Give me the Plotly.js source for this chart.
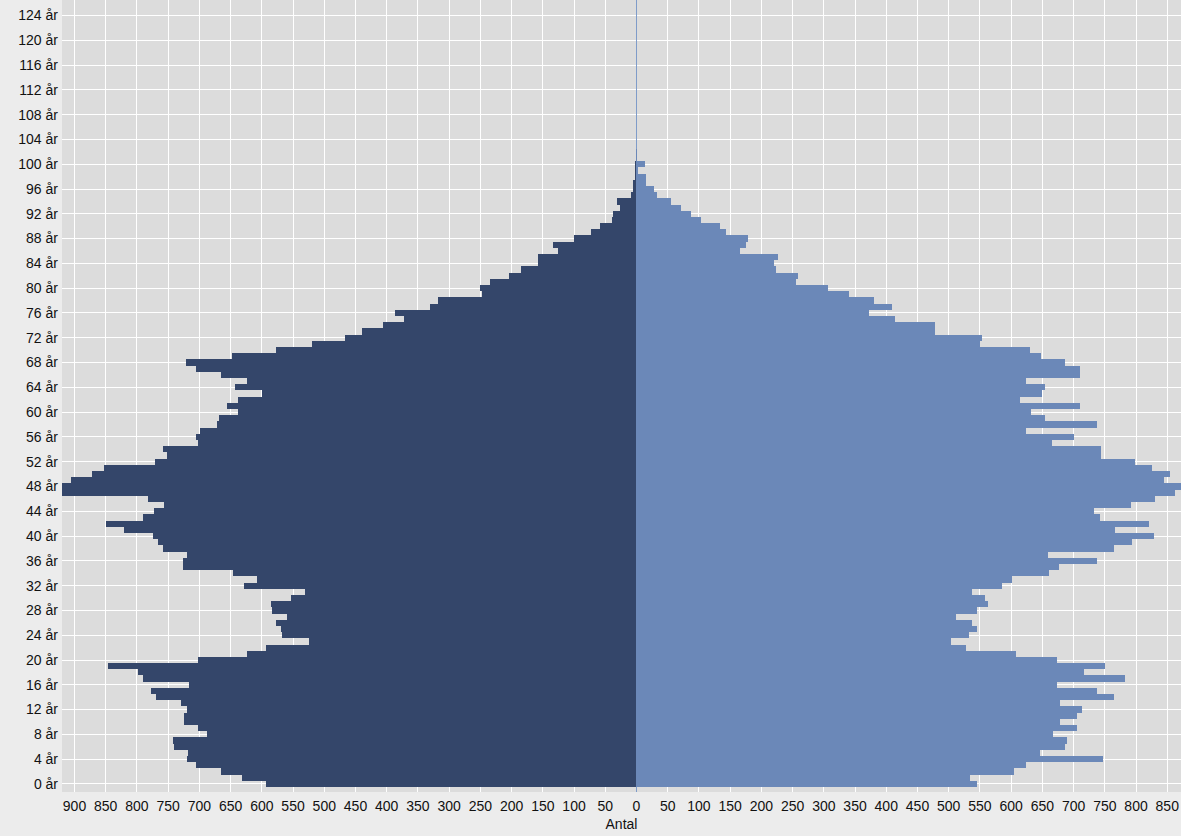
<!DOCTYPE html>
<html>
<head>
<meta charset="utf-8">
<script src="https://cdn.plot.ly/plotly-3.0.1.min.js"></script>
<style>html,body{margin:0;padding:0;background:#ececec;}#chart{width:1181px;height:836px;}</style>
</head>
<body>
<div id="chart"></div>
<script>
var ages = [0,1,2,3,4,5,6,7,8,9,10,11,12,13,14,15,16,17,18,19,20,21,22,23,24,25,26,27,28,29,30,31,32,33,34,35,36,37,38,39,40,41,42,43,44,45,46,47,48,49,50,51,52,53,54,55,56,57,58,59,60,61,62,63,64,65,66,67,68,69,70,71,72,73,74,75,76,77,78,79,80,81,82,83,84,85,86,87,88,89,90,91,92,93,94,95,96,97,98,99,100,101,102];
var men = [593,631,666,706,720,718,740,742,687,702,725,725,720,729,770,777,716,790,799,846,702,624,593,524,567,569,578,560,583,585,553,531,628,607,646,727,727,720,758,766,775,820,850,790,773,757,783,930,930,905,872,853,771,752,758,702,705,699,672,668,638,656,638,600,643,624,666,705,722,647,578,519,467,439,406,372,386,330,318,247,251,235,204,185,158,158,126,133,100,73,59,40,37,26,31,9,6,6,3,3,3,1,1];
var women = [546,534,605,623,747,646,687,690,667,706,678,706,713,678,765,737,673,782,716,751,673,608,528,503,533,546,538,512,545,563,558,538,585,602,661,677,737,659,765,794,829,766,820,742,732,792,830,863,880,845,854,825,799,744,744,665,701,624,737,654,631,711,614,649,654,624,710,710,687,647,630,550,554,478,478,414,372,409,381,341,307,255,258,223,220,226,165,175,179,144,134,103,87,72,55,33,28,16,16,3,13,1,1];
var xTickVals = [-900,-850,-800,-750,-700,-650,-600,-550,-500,-450,-400,-350,-300,-250,-200,-150,-100,-50,0,50,100,150,200,250,300,350,400,450,500,550,600,650,700,750,800,850];
var xTickText = ["900","850","800","750","700","650","600","550","500","450","400","350","300","250","200","150","100","50","0","50","100","150","200","250","300","350","400","450","500","550","600","650","700","750","800","850"];
var yTickVals = [0,4,8,12,16,20,24,28,32,36,40,44,48,52,56,60,64,68,72,76,80,84,88,92,96,100,104,108,112,116,120,124];
var yTickText = ["0 år","4 år","8 år","12 år","16 år","20 år","24 år","28 år","32 år","36 år","40 år","44 år","48 år","52 år","56 år","60 år","64 år","68 år","72 år","76 år","80 år","84 år","88 år","92 år","96 år","100 år","104 år","108 år","112 år","116 år","120 år","124 år"];
var xAxisTitle = "Antal";

var font = {family: "Liberation Sans, Arial, sans-serif", size: 14, color: "#111"};

var traces = [
  {type: "bar", orientation: "h", y: ages, x: men.map(function(v){return -v;}), name: "Män",
   marker: {color: "#34466a", line: {width: 0}}, hoverinfo: "skip"},
  {type: "bar", orientation: "h", y: ages, x: women, name: "Kvinnor",
   marker: {color: "#6b88b8", line: {width: 0}}, hoverinfo: "skip"}
];

var layout = {
  width: 1181, height: 836,
  margin: {l: 62, r: 0, t: 0, b: 44, pad: 0},
  paper_bgcolor: "#ececec",
  plot_bgcolor: "#dcdcdc",
  barmode: "overlay",
  bargap: 0,
  showlegend: false,
  font: font,
  xaxis: {
    range: [-920, 872], tickvals: xTickVals, ticktext: xTickText,
    showgrid: true, gridcolor: "#ffffff", gridwidth: 1,
    zeroline: true, zerolinecolor: "#7f9cc9", zerolinewidth: 1.5,
    showline: false, ticks: "", tickfont: font, ticklabeloverflow: "allow",
    ticklabelstandoff: 4,
    title: {text: xAxisTitle, font: font, standoff: 6}
  },
  yaxis: {
    range: [-1.3, 126.5], tickvals: yTickVals, ticktext: yTickText,
    showgrid: true, gridcolor: "#ffffff", gridwidth: 1,
    zeroline: false, showline: false, ticks: "", tickfont: font,
    ticklabelstandoff: 3
  }
};

Plotly.newPlot("chart", traces, layout, {staticPlot: true, displayModeBar: false});
</script>
</body>
</html>
